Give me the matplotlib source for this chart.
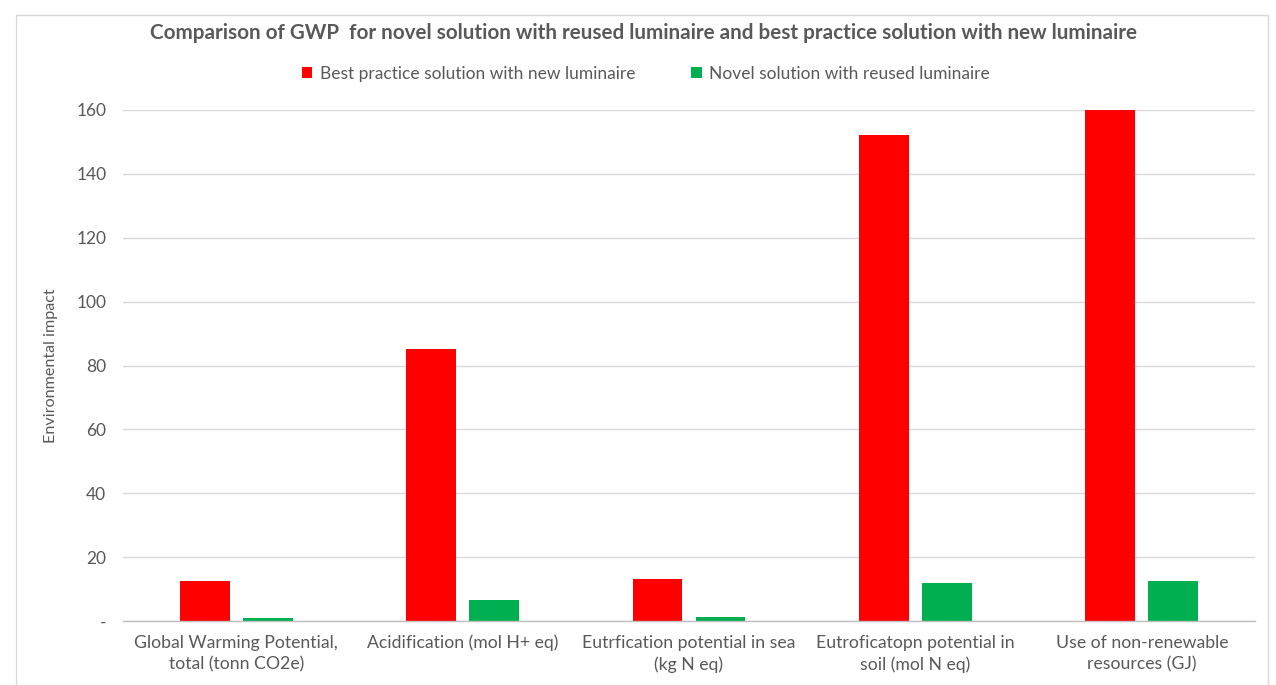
import matplotlib
matplotlib.use("Agg")
import matplotlib.pyplot as plt
import numpy as np
from matplotlib.patches import Rectangle
from matplotlib.ticker import FuncFormatter

plt.rcParams['font.family'] = ['Lato', 'DejaVu Sans']

categories = [
    "Global Warming Potential,\ntotal (tonn CO2e)",
    "Acidification (mol H+ eq)",
    "Eutrfication potential in sea\n(kg N eq)",
    "Eutroficatopn potential in\nsoil (mol N eq)",
    "Use of non-renewable\nresources (GJ)",
]
best_practice = [12.6, 85.2, 13.3, 152.2, 160.0]
novel = [0.8, 6.6, 1.1, 11.9, 12.6]
series_names = ["Best practice solution with new luminaire",
                "Novel solution with reused luminaire"]
yticks = [0, 20, 40, 60, 80, 100, 120, 140, 160]

RED = "#FF0000"
GREEN = "#00B050"
TXT = "#595959"
GRID = "#D9D9D9"

fig = plt.figure(figsize=(12.76, 6.85), dpi=100)
fig.patch.set_facecolor("white")

# chart frame
fig.add_artist(Rectangle((16 / 1276, -0.01), (1268 - 16) / 1276, (685 - 15) / 685 + 0.01,
                         transform=fig.transFigure, fill=False,
                         edgecolor="#D9D9D9", linewidth=1.0))

ax = fig.add_axes([123 / 1276, 64 / 685, (1255 - 123) / 1276, (621 - 110) / 685])

x = np.arange(len(categories))
w = 0.22
off = 0.139
ax.bar(x - off, best_practice, width=w, color=RED, label=series_names[0], zorder=3)
ax.bar(x + off, novel, width=w, color=GREEN, label=series_names[1], zorder=3)

ax.set_xlim(-0.5, len(categories) - 0.5)
ax.set_ylim(0, 160)
ax.set_yticks(yticks)
ax.yaxis.set_major_formatter(FuncFormatter(lambda v, p: "-" if v == 0 else f"{v:.0f}"))
ax.set_xticks(x)
ax.set_xticklabels(categories, color=TXT, fontsize=12.7, linespacing=1.4)
ax.tick_params(axis="both", length=0, colors=TXT)
ax.tick_params(axis="x", pad=10, labelsize=12.7)
ax.tick_params(axis="y", pad=12, labelsize=12.5)

ax.grid(axis="y", color=GRID, linewidth=1.0, zorder=0)
for s in ["top", "right", "left"]:
    ax.spines[s].set_visible(False)
ax.spines["bottom"].set_color("#BFBFBF")
ax.spines["bottom"].set_linewidth(1.0)
ax.spines["bottom"].set_zorder(4)

ax.set_ylabel("Environmental impact", color=TXT, fontsize=11.6, labelpad=13)

fig.text(644 / 1276, 1 - 33 / 685, "Comparison of GWP  for novel solution with reused luminaire and best practice solution with new luminaire",
         ha="center", va="center", fontsize=14.9, fontweight="bold", color=TXT)

leg = fig.legend(loc="center", bbox_to_anchor=(646 / 1276, 1 - 74 / 685), ncol=2,
                 frameon=False, fontsize=12.5, handlelength=0.6, handleheight=0.6,
                 handletextpad=0.45, columnspacing=3.2)
for t in leg.get_texts():
    t.set_color(TXT)

fig.savefig("out.png", dpi=100, facecolor="white")
